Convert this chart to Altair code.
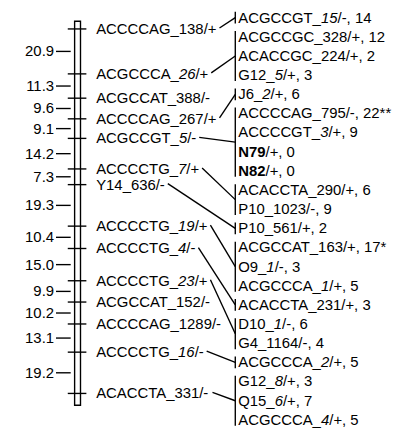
import altair as alt
import pandas as pd
import numpy as np

# ---------------- data ----------------
# markers on the linkage group, top to bottom ({..} = italic part)
marker_names = [
    "ACCCCAG_138/+", "ACGCCCA_{26}/+", "ACGCCAT_388/-", "ACCCCAG_267/+",
    "ACGCCGT_{5}/-", "ACCCCTG_{7}/+", "Y14_636/-", "ACCCCTG_{19}/+",
    "ACCCCTG_{4}/-", "ACCCCTG_{23}/+", "ACGCCAT_152/-", "ACCCCAG_1289/-",
    "ACCCCTG_{16}/-", "ACACCTA_331/-",
]
# distances (cM) between consecutive markers
intervals = [20.9, 11.3, 9.6, 9.1, 14.2, 7.3, 19.3, 10.4, 15.0, 9.9, 10.2, 13.1, 19.2]

# right-hand list ({..} = italic, [..] = bold)
right_labels = [
    "ACGCCGT_{15}/-, 14", "ACGCCGC_328/+, 12", "ACACCGC_224/+, 2", "G12_{5}/+, 3",
    "J6_{2}/+, 6", "ACCCCAG_795/-, 22**", "ACCCCGT_{3}/+, 9", "[N79]/+, 0",
    "[N82]/+, 0", "ACACCTA_290/+, 6", "P10_1023/-, 9", "P10_561/+, 2",
    "ACGCCAT_163/+, 17*", "O9_{1}/-, 3", "ACGCCCA_{1}/+, 5", "ACACCTA_231/+, 3",
    "D10_{1}/-, 6", "G4_1164/-, 4", "ACGCCCA_{2}/+, 5", "G12_{8}/+, 3",
    "Q15_{6}/+, 7", "ACGCCCA_{4}/+, 5",
]
# group of each right-hand label, and the marker each group is linked to
right_group = [0, 1, 1, 1, 2, 3, 3, 3, 3, 4, 4, 5, 6, 6, 6, 7, 8, 8, 9, 10, 10, 10]
group_marker = [0, 1, 3, 4, 5, 6, 7, 8, 9, 12, 13]

# ---------------- layout ----------------
FONT = "Liberation Sans"
FS = 15.2
W, H = 394, 422
K = 2.195          # px per cM
Y0 = 17            # first marker
ROW0, ROWH = 5.5, 19.55
BAR_L, BAR_R = 68, 74
BAR_TOP_CM, BAR_BOT_CM = -3.6, 5.5
TICK_L, TICK_R = 61, 80
INT_L, INT_R = 49, 64
INT_TXT = 47
LBL_X = 90
BRK_X = 232
RLBL_X = 235

WID = {c: 556 for c in "0123456789_"}
WID.update({"A": 667, "C": 722, "G": 778, "T": 611, "N": 722, "P": 667, "O": 778,
            "D": 722, "Q": 778, "J": 500, "Y": 667, "/": 278, "+": 584, "-": 333,
            ",": 278, " ": 278, "*": 389, ".": 278})


def width(t):
    return sum(WID.get(c, 556) for c in t) * FS / 1000


def parse(s):
    segs, cur, style = [], "", "normal"
    for ch in s:
        if ch in "{[":
            if cur:
                segs.append((cur, style))
            cur = ""
            style = "italic" if ch == "{" else "bold"
        elif ch in "}]":
            if cur:
                segs.append((cur, style))
            cur, style = "", "normal"
        else:
            cur += ch
    if cur:
        segs.append((cur, style))
    return segs


cum = np.concatenate([[0.0], np.cumsum(intervals)])
my = Y0 + K * cum
ry = ROW0 + ROWH * np.arange(len(right_labels))

text_rows = []


def add_text(x0, y, s):
    off = 0.0
    for t, st in parse(s):
        text_rows.append({"x": x0 + off, "y": y, "text": t, "style": st})
        off += width(t)
    return off


marker_w = [add_text(LBL_X, y, s) for s, y in zip(marker_names, my)]
for s, y in zip(right_labels, ry):
    add_text(RLBL_X, y, s)
text_df = pd.DataFrame(text_rows)

bar_df = pd.DataFrame([{"x": BAR_L, "x2": BAR_R,
                        "y": Y0 + K * BAR_TOP_CM, "y2": Y0 + K * (cum[-1] + BAR_BOT_CM)}])

rules = []
for y in my:
    rules.append({"x": TICK_L, "x2": TICK_R, "y": y, "y2": y})
mids = (my[:-1] + my[1:]) / 2
for y in mids:
    rules.append({"x": INT_L, "x2": INT_R, "y": y, "y2": y})
for g, m in enumerate(group_marker):
    rows = [i for i, gg in enumerate(right_group) if gg == g]
    ys = ry[rows]
    rules.append({"x": BRK_X, "x2": BRK_X, "y": ys.min() - 6, "y2": ys.max() + 6})
    rules.append({"x": LBL_X + marker_w[m] + 3, "x2": BRK_X,
                  "y": my[m] - 1, "y2": ys.mean()})
rule_df = pd.DataFrame(rules)

int_df = pd.DataFrame({"x": INT_TXT, "y": mids, "text": [f"{v:.1f}" for v in intervals]})

xs = alt.Scale(domain=[0, W], range=[0, W])
ys_ = alt.Scale(domain=[0, H], range=[0, H])


def X(f="x"):
    return alt.X(f, type="quantitative", scale=xs, axis=None)


def Y(f="y"):
    return alt.Y(f, type="quantitative", scale=ys_, axis=None)


bar = alt.Chart(bar_df).mark_rect(fill="white", stroke="black", strokeWidth=1.4).encode(
    x=X(), x2="x2", y=Y(), y2="y2")
rule = alt.Chart(rule_df).mark_rule(color="black", strokeWidth=1.4).encode(
    x=X(), x2="x2", y=Y(), y2="y2")

layers = [bar, rule]
for st, kw in [("normal", {}), ("italic", {"fontStyle": "italic"}), ("bold", {"fontWeight": "bold"})]:
    layers.append(
        alt.Chart(text_df).transform_filter(alt.datum.style == st)
        .mark_text(font=FONT, fontSize=FS, align="left", baseline="middle", color="black", **kw)
        .encode(x=X(), y=Y(), text="text:N")
    )
layers.append(
    alt.Chart(int_df).mark_text(font=FONT, fontSize=FS, align="right", baseline="middle", color="black")
    .encode(x=X(), y=Y(), text="text:N")
)

chart = alt.layer(*layers).properties(
    width=W, height=H, padding=0, autosize="none", background="white"
).configure_view(stroke=None)

chart.save("out.html", embed_options={"renderer": "svg", "actions": False})
